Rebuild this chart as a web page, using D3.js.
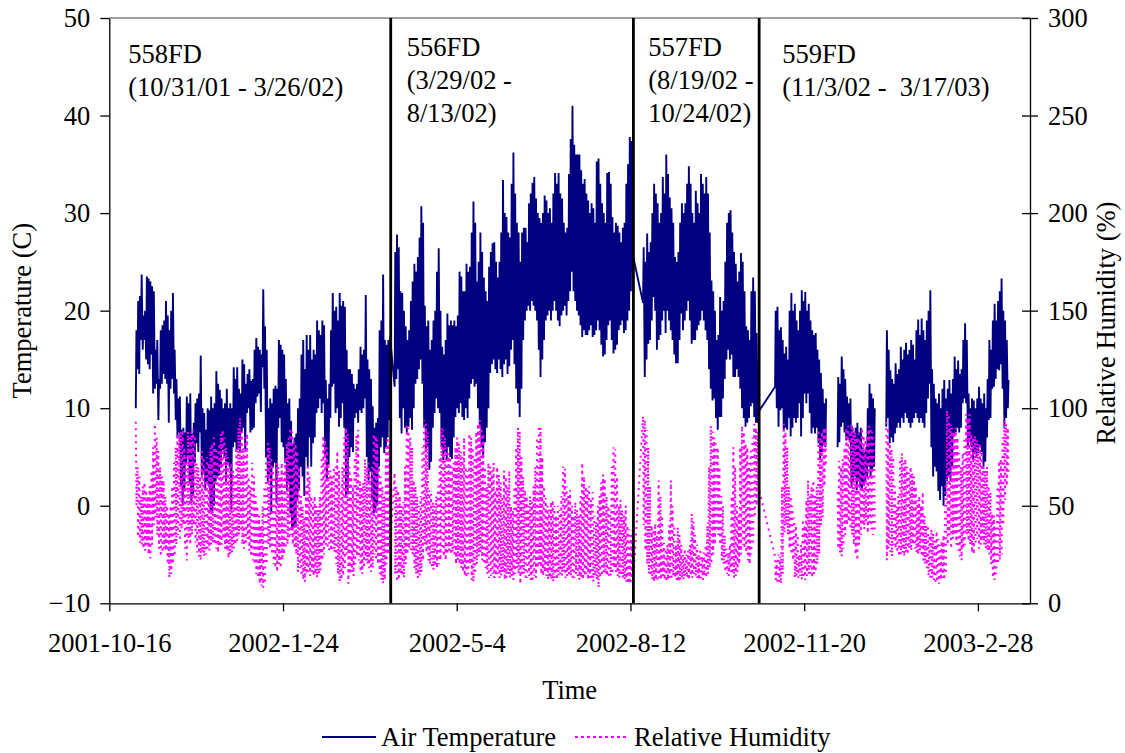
<!DOCTYPE html>
<head>
    <meta charset="utf-8">
    <title>Air temperature and relative humidity</title>
    <style>
        body { margin: 0; background: #fff; }
        svg { display: block; font-family: "Liberation Serif", "Times New Roman", serif; }
    </style>
</head>
<body>

<svg width="1125" height="753"></svg>

<script src="https://d3js.org/d3.v7.min.js"></script>

<script>

// x axis range and ticks
var xDomain = ['2001-10-16', '2003-03-30'];
var xTickLabels = ['2001-10-16', '2002-1-24', '2002-5-4', '2002-8-12', '2002-11-20', '2003-2-28'];
var tempTicks = [-10, 0, 10, 20, 30, 40, 50];
var rhTicks = [0, 50, 100, 150, 200, 250, 300];

var seriesNames = ['Air Temperature', 'Relative Humidity'];

// the four sensor deployments
var deployNames = ['558FD', '556FD', '557FD', '559FD'];
var deployStart = ['2001-10-31', '2002-03-29', '2002-08-19', '2002-11-03'];
var deployText = [
    ['558FD', '(10/31/01 - 3/26/02)'],
    ['556FD', '(3/29/02 -', '8/13/02)'],
    ['557FD', '(8/19/02 -', '10/24/02)'],
    ['559FD', '(11/3/02 -  3/17/03)']
];
// where the sensor was swapped (vertical lines)
var swapTimes = ['2002-03-27T00:00', '2002-08-13T17:00', '2002-10-25T02:00'];

// daily temperature max / min (C), one value per day from the start date, null = no data
var t558Max = [18, 21, 21.5, 23.7, 19.5, 20, 23.5, 23.3, 23, 22.5,
    22, 16, 17, 13, 18, 18.5, 19, 21, 19.5, 18,
    20, 21.8, 16, 13, 11, 11.2, 7.8, 8, 7.5, 11.2,
    10.5, 11.5, 7.4, 8.5, 10.5, 11, 11.5, 15.4, 10, 9.5,
    7.8, 10, 9.8, 11.2, 10, 10.5, 13.8, 12.5, 11.9, 11,
    10, 10.5, 12, 10, 10.5, 10, 14.2, 13, 14.2, 12,
    11.5, 15, 14.5, 12.5, 13.5, 14, 12.8, 13, 16, 17.2,
    16.3, 16, 15.5, 22.2, 18.4, 16, 10, 11, 10.5, 12,
    12.3, 12, 17, 16.5, 16, 15.5, 13, 10.5, 11, 8.7,
    6.3, 7, 7.4, 10, 11, 15.5, 17, 14, 17.5, 16,
    17.5, 15, 16, 15.5, 19, 18, 17.5, 19, 18.5, 12.9,
    11, 12.5, 18, 21.8, 20, 20.4, 19, 21.8, 20.5, 21,
    20.4, 16, 14, 14, 13.5, 12.5, 12, 12.5, 14, 16.3,
    15.5, 16, 21.6, 15, 14, 13, 10.2, 8, 8.5, 9,
    18, 19, 23.7, 17, 16.5, 17, 17.3];
var t558Min = [10, 14, 13.5, 17, 16, 17, 15, 14.5, 14, 15.5,
    11.5, 12, 12.5, 8.8, 12, 12.5, 13.5, 13, 12.5, 8.5,
    12, 13, 11.5, 8.8, 7, 7.5, 2, 0, 1.5, 4.4,
    5, 2.4, 0.3, 1, 4.4, 6.4, 5.5, 7.5, 3.1, 3.5,
    1.6, 2.5, 2, -0.4, -0.8, 0, 2.5, 3, 3.1, 4,
    5.7, 5, 2.4, 4.4, 4, -0.4, 6, 6.5, 5.5, 5.8,
    5.4, 7.5, 8, 5.8, 9.5, 10, 7.5, 7.8, 8, 10.5,
    11.2, 11.5, 9.6, 14.2, 12, 5, 2.3, 3, -0.8, 4,
    4.4, 0.3, 8, 9, 6.5, 6, 4.4, 1.6, 2.5, -0.8,
    -2.5, -2.2, -2.2, 0.5, 1.5, 4, 3, 1, 5, 4,
    7, 4, 6.4, 7, 9.5, 10, 11, 9.5, 10.5, 5,
    2.6, 4.2, 9, 12.2, 12.5, 9.5, 10, 8.1, 9, 10.5,
    8, 1, 1.2, 5, 6, 5.5, 9, 9.5, 8.5, 9.8,
    9.5, 10, 11, 5, 2.6, 3.5, 0.6, -0.8, -0.5, 0,
    4, 6, 7, 5.4, 6, 7, 8.8];

var t556Max = [26, 27.8, 26.5, 22, 21.8, 20, 18.4, 17, 18, 21,
    23, 24.8, 24, 25.5, 27.5, 30.7, 29, 20.5, 18.4, 19,
    16, 17, 19, 20, 24, 26.4, 20, 16.3, 15.5, 17,
    19.7, 18.5, 19, 18.5, 19, 18.4, 19.5, 24, 23.5, 22,
    22, 24.8, 24, 24.5, 28, 31.2, 29, 23, 25, 28,
    26, 23.4, 22, 21, 24.5, 26, 26.9, 27, 25, 23.4,
    25, 28, 33.4, 30, 29.6, 28, 27.5, 33, 36.2, 32,
    29, 28, 25, 28, 28.5, 28.5, 27, 31, 32, 33.1,
    33.7, 31.5, 30, 29.5, 29, 30, 31.8, 31.3, 30, 30.5,
    29, 32, 34.1, 33, 34.1, 32, 31.5, 29, 28, 28.5,
    34, 37.6, 41, 37, 36, 36, 36, 34.4, 33, 33.5,
    32, 31.3, 30, 31, 30.5, 29, 35.3, 35.6, 33, 31,
    30, 29, 34.1, 34.2, 33, 29.6, 28, 29, 28.7, 28,
    27, 28.5, 29, 33, 35, 37.8, 37.4, 25.5];
var t556Min = [12.2, 13, 14, 9, 7.4, 10, 8, 7.5, 8.1, 9,
    7.8, 10, 12.5, 13, 14, 15, 12.5, 8, 5.5, 6,
    3.7, 4.5, 8, 9.5, 11, 10, 9.5, 6, 4.7, 5.5,
    4.7, 6, 5, 4.8, 7, 9.1, 10, 9.5, 10.5, 9.1,
    8.8, 10, 9, 11, 12.5, 13, 12.2, 12.5, 10, 8,
    6, 5, 6.5, 8, 10, 13.6, 14.5, 15, 14, 13.6,
    15, 14, 13.2, 14.5, 15, 13.5, 14.3, 16, 17, 14.5,
    12, 10.5, 9.1, 12, 17, 19, 20, 20.5, 20, 21,
    20.5, 20, 19, 16, 13.2, 15, 17, 19, 19.5, 20,
    19, 20, 21, 20, 19, 18.4, 19.5, 20, 20.5, 19.5,
    21, 22, 24, 22, 21, 20, 19.5, 18.5, 17.3, 18,
    17.5, 17.5, 18, 18.5, 17.3, 17.5, 18, 19, 18, 16.5,
    15.3, 15.5, 17, 18.5, 19, 17, 15.6, 16, 16.5, 18,
    18.5, 19, 17.7, 18, 19, 20, 22, 24];

var t557Max = [26.5, 25, 27.9, 26, 27, 30, 33, 32, 31, 29,
    30, 33.7, 32, 36, 34, 31.6, 30.5, 29, 25.5, 25,
    26, 29, 31, 30, 31, 33, 34.8, 33, 30, 29,
    32.3, 31, 30, 34, 33, 32, 33.7, 32, 28, 23.1,
    22, 20, 17, 17.5, 21.4, 20, 21, 25, 29, 30,
    30.3, 28, 26, 24.8, 23, 24, 25.9, 25, 22, 18.4,
    18, 17, 22, 23.4, 22, 17.7, 9.6];
var t557Min = [20.8, 13.2, 15, 16.6, 17, 19, 21.4, 20, 16, 17,
    17.5, 19, 20, 17.7, 20, 19, 18, 17, 15.5, 14.6,
    14.6, 17, 19.7, 18, 19, 20, 21, 19, 16.6, 17,
    17, 18, 18.5, 19, 20, 19, 18, 17, 14, 12,
    10.8, 11, 9, 7.8, 9.1, 9.1, 11, 13, 15, 16,
    15, 15.5, 13.2, 13.2, 14, 13.2, 12, 10, 9, 8.1,
    8.5, 9, 10.2, 10.5, 9.1, 8.5, 8.5];

var t559Max = [20, 20.4, 18, 18.3, 17, 15.6, 16.3, 15, 20, 21.8,
    20, 20.7, 19, 18, 20, 22.1, 21, 21.9, 20, 20.7,
    19, 18, 17.5, 17.7, 16, 15, 13.6, 12, 10.5, 11,
    null, null, null, null, null, null, 13.2, 12.5, 15.3, 14,
    13, 11.2, 10.5, 11, 8.1, 7.5, 8, 8.5, 7.5, 8,
    6, 5.5, 6, 10, 12.5, 11.5, 11, 10, null, null,
    null, null, null, null, 18, 16, 13.9, 13, 12.5, 14.6,
    13.5, 14, 16.3, 15, 16, 16.7, 15.5, 16, 17, 16.5,
    15, 18, 19.1, 17.5, 19.2, 18, 17, 19, 20, 22.1,
    14, 12.5, 11, 10.5, 11.5, 10, 12, 12.9, 11, 12,
    12.9, 11.5, 13, 15.3, 14, 14.9, 13.5, 14, 17, 18.7,
    17, 11.5, 10, 11, 10.8, 10, 11, 12.2, 11, 10.5,
    11.5, 10, 13, 17, 16, 19, 20.7, 19, 21, 22,
    23.3, 20, 19, 17, 12.9];
var t559Min = [12.2, 10, 8.1, 9.8, 10, 7.8, 8, 7.8, 9, 7.1,
    8, 9, 8.5, 9, 10.5, 7.1, 9, 11.5, 10.5, 11.5,
    9.5, 7.4, 8, 7.4, 8, 6.4, 4.7, 5.5, 6.4, 6,
    null, null, null, null, null, null, 6, 6.5, 8.1, 8.5,
    7.5, 6.7, 7, 6.7, 1.9, 2.5, 3, 1.6, 2.5, 2,
    1.5, 2, 2.5, 3, 4, 3, 3.5, 4, null, null,
    null, null, null, null, 8.1, 9, 6.4, 7, 6.5, 7.4,
    8, 8.5, 8, 9, 8.5, 9.5, 9, 8.5, 8, 8.5,
    9, 9.5, 9, 8.5, 9, 8.5, 8, 9.5, 11, 12.5,
    6, 3, 4, 3.5, 1.5, 0.6, 2, 0, 1, 2.5,
    3, 2.5, 4, 7.1, 7.5, 8, 7.5, 8, 10.5, 11,
    10.5, 6, 6.5, 6, 4.7, 5.5, 5, 5.4, 6, 5.5,
    4, 4.5, 7, 8.8, 9, 12, 12.2, 13, 14, 13.9,
    14.5, 12, 8.1, 9, 10];

// daily relative humidity max / min (%)
var h558Max = [93, 70, 65, 55, 60, 62, 58, 55, 60, 68,
    80, 92, 85, 78, 70, 65, 63, 55, 50, 46,
    50, 60, 72, 80, 87, 86, 88, 89, 80, 75,
    88, 85, 88, 89, 86, 72, 70, 65, 78, 75,
    70, 75, 72, 80, 82, 85, 80, 78, 82, 87,
    89, 85, 80, 75, 70, 72, 68, 65, 80, 90,
    95, 88, 80, 85, 87, 65, 60, 72, 65, 55,
    50, 45, 40, 50, 60, 75, 82, 80, 75, 70,
    65, 72, 70, 65, 72, 68, 75, 82, 85, 90,
    88, 84, 82, 78, 70, 55, 50, 44, 60, 70,
    65, 55, 52, 55, 50, 48, 55, 75, 86, 84,
    80, 72, 68, 65, 70, 70, 78, 68, 60, 70,
    85, 90, 87, 70, 65, 60, 75, 86, 89, 63,
    60, 62, 74, 70, 72, 65, 70, 87, 86, 84,
    70, 65, 60, 55, 80, 85, 82];
var h558Min = [50, 34, 31, 30, 28, 27, 30, 25, 23, 30,
    40, 44, 35, 28, 24, 26, 28, 27, 20, 13,
    15, 20, 24, 30, 35, 32, 38, 40, 28, 22,
    33, 30, 35, 40, 31, 26, 24, 22, 26, 24,
    25, 28, 27, 30, 31, 30, 28, 26, 29, 30,
    33, 28, 27, 23, 25, 26, 28, 30, 32, 35,
    38, 30, 28, 30, 33, 27, 24, 22, 20, 15,
    13, 10, 9, 8, 10, 20, 30, 28, 25, 20,
    18, 16, 20, 18, 22, 25, 28, 30, 33, 35,
    30, 28, 25, 16, 18, 14, 12, 11, 15, 16,
    14, 16, 14, 15, 13, 15, 17, 22, 25, 30,
    28, 26, 27, 28, 26, 20, 15, 11, 12, 14,
    18, 25, 10, 15, 16, 14, 20, 24, 22, 16,
    15, 18, 22, 20, 18, 16, 18, 25, 22, 20,
    15, 12, 10, 12, 20, 25, 28];

var h556Max = [67, 60, 58, 55, 50, 52, 70, 92, 90, 85,
    80, 63, 60, 55, 50, 55, 80, 94, 92, 88,
    58, 56, 52, 50, 55, 60, 75, 90, 89, 85,
    80, 77, 75, 70, 72, 80, 85, 82, 78, 75,
    85, 70, 68, 87, 85, 80, 75, 88, 92, 94,
    90, 87, 70, 60, 72, 70, 68, 72, 58, 70,
    66, 62, 55, 68, 65, 60, 68, 50, 48, 60,
    80, 90, 88, 75, 65, 58, 55, 50, 55, 52,
    60, 70, 85, 91, 90, 75, 60, 54, 50, 48,
    52, 53, 50, 45, 50, 48, 55, 70, 69, 60,
    55, 58, 50, 45, 52, 48, 45, 55, 72, 65,
    60, 58, 60, 53, 57, 45, 42, 50, 55, 62,
    66, 64, 55, 50, 48, 70, 80, 79, 65, 50,
    53, 48, 45, 50, 40, 38, 35, 38];
var h556Min = [15, 11, 12, 15, 14, 13, 20, 25, 28, 26,
    25, 18, 15, 13, 14, 16, 22, 30, 26, 22,
    20, 18, 17, 19, 18, 20, 22, 26, 24, 22,
    25, 27, 25, 26, 24, 20, 22, 20, 18, 16,
    14, 13, 15, 20, 12, 11, 15, 20, 24, 26,
    22, 20, 18, 15, 13, 14, 15, 13, 14, 15,
    13, 14, 16, 12, 13, 15, 13, 14, 12, 15,
    18, 15, 10, 14, 15, 12, 13, 14, 12, 11,
    14, 13, 18, 20, 15, 14, 16, 14, 12, 13,
    12, 11, 13, 12, 14, 15, 14, 16, 13, 14,
    15, 14, 12, 13, 15, 14, 12, 13, 12, 14,
    15, 12, 13, 12, 11, 14, 12, 8, 13, 14,
    16, 15, 14, 13, 14, 15, 18, 16, 14, 13,
    14, 13, 12, 11, 10, 10, 11, 12];

var h557Max = [96, 94, 89, 80, 60, 40, 38, 41, 35, 63,
    55, 45, 31, 28, 30, 40, 63, 50, 40, 30,
    39, 35, 30, 25, 28, 25, 27, 30, 46, 42,
    35, 30, 25, 28, 24, 26, 30, 40, 70, 91,
    88, 85, 82, 80, 70, 55, 50, 35, 28, 26,
    30, 55, 80, 70, 50, 45, 80, 91, 88, 82,
    80, 72, 78, 85, 92, 90, 88];
var h557Min = [40, 27, 20, 15, 14, 12, 11, 12, 11, 13,
    12, 14, 12, 11, 12, 13, 12, 14, 13, 12,
    11, 12, 13, 12, 14, 13, 12, 14, 13, 15,
    14, 13, 12, 13, 12, 14, 13, 15, 18, 20,
    25, 30, 37, 35, 30, 22, 20, 16, 15, 14,
    16, 15, 13, 14, 16, 20, 25, 30, 28, 26,
    22, 20, 25, 30, 44, 50, 60];

var h559Max = [24, 22, 25, 24, 60, 92, 88, 80, 60, 55,
    50, 44, 40, 35, 25, 30, 43, 40, 53, 63,
    55, 60, 63, 55, 60, 89, 85, 88, 90, 90,
    null, null, null, null, null, null, 57, 73, 70, 74,
    80, 90, 91, 88, 92, 90, 88, 85, 87, 84,
    90, 86, 84, 88, 91, 90, 88, 85, null, null,
    null, null, null, null, 93, 90, 82, 79, 75, 60,
    50, 55, 74, 77, 72, 74, 70, 67, 70, 67,
    65, 60, 53, 55, 50, 57, 45, 40, 40, 35,
    38, 36, 32, 37, 33, 30, 32, 35, 60, 99,
    97, 92, 90, 88, 90, 85, 77, 70, 77, 85,
    97, 95, 97, 87, 85, 86, 84, 82, 81, 78,
    70, 68, 70, 60, 57, 46, 45, 40, 60, 73,
    74, 85, 94, 92, 90];
var h559Min = [12, 10, 11, 10, 15, 36, 40, 35, 28, 25,
    22, 13, 14, 13, 14, 12, 13, 12, 14, 15,
    14, 13, 15, 16, 20, 25, 40, 44, 60, 70,
    null, null, null, null, null, null, 28, 26, 24, 28,
    35, 40, 42, 38, 35, 30, 25, 22, 30, 35,
    40, 38, 42, 36, 40, 38, 35, 36, null, null,
    null, null, null, null, 22, 28, 25, 24, 30, 28,
    26, 24, 25, 26, 24, 26, 25, 28, 27, 30,
    28, 26, 25, 27, 24, 22, 20, 18, 14, 12,
    13, 12, 10, 11, 10, 12, 13, 12, 15, 30,
    35, 28, 33, 35, 30, 27, 24, 22, 28, 30,
    35, 32, 30, 26, 25, 30, 33, 28, 30, 32,
    30, 28, 27, 25, 20, 13, 12, 15, 20, 22,
    25, 40, 53, 60, 65];

var tempMax = [t558Max, t556Max, t557Max, t559Max],
    tempMin = [t558Min, t556Min, t557Min, t559Min],
    rhMax = [h558Max, h556Max, h557Max, h559Max],
    rhMin = [h558Min, h556Min, h557Min, h559Min];


var svg = d3.select('svg');

// plot area edges (window.top is taken, so no plain "top")
var plotL = 109.3, plotR = 1030, plotT = 18, plotB = 603.3;
var fontSize = 26.5;
var navy = '#000080', magenta = '#ff00ff';

var parseDay = d3.utcParse('%Y-%m-%d'),
    parseTime = d3.utcParse('%Y-%m-%dT%H:%M');

var x = d3.scaleUtc()
    .domain(xDomain.map(parseDay))
    .range([plotL, plotR]);

var yT = d3.scaleLinear().domain([-10, 50]).range([plotB, plotT]);
var yH = d3.scaleLinear().domain([0, 300]).range([plotB, plotT]);

// Turn the daily values into a time series: early morning and afternoon readings.
// Temperature is low in the morning, humidity is high in the morning.
function toSeries(firsts, seconds) {
    var pts = [];
    deployStart.forEach((s, k) => {
        var start = parseDay(s);
        firsts[k].forEach((v, i) => {
            var day = d3.utcDay.offset(start, i);
            if (v == null || seconds[k][i] == null) {
                pts.push({ t: d3.utcHour.offset(day, 6), v: null });
                return;
            }
            pts.push({ t: d3.utcHour.offset(day, 6), v: v });
            pts.push({ t: d3.utcHour.offset(day, 15), v: seconds[k][i] });
        });
    });
    return pts;
}

var tempSeries = toSeries(tempMin, tempMax);
var rhSeries = toSeries(rhMax, rhMin);

// top border of the plot area
svg.append('line')
    .attr('x1', plotL).attr('x2', plotR)
    .attr('y1', plotT).attr('y2', plotT)
    .attr('stroke', '#808080')
    .attr('stroke-width', 1.3);

// data lines
var tempLine = d3.line()
    .defined(d => d.v != null)
    .x(d => x(d.t))
    .y(d => yT(d.v));

var rhLine = d3.line()
    .defined(d => d.v != null)
    .x(d => x(d.t))
    .y(d => yH(d.v));

svg.append('path')
    .datum(tempSeries)
    .attr('fill', 'none')
    .attr('stroke', navy)
    .attr('stroke-width', 1.9)
    .attr('d', tempLine);

svg.append('path')
    .datum(rhSeries)
    .attr('fill', 'none')
    .attr('stroke', magenta)
    .attr('stroke-width', 2)
    .attr('stroke-dasharray', '2,4.5')
    .attr('d', rhLine);

// axes
function styleAxis(g) {
    g.attr('font-family', null).attr('font-size', null);
    g.select('.domain').attr('stroke', '#000').attr('stroke-width', 1.3);
    g.selectAll('.tick line').attr('stroke', '#000').attr('stroke-width', 1.3);
    g.selectAll('.tick text')
        .attr('fill', '#000')
        .style('font-size', fontSize + 'px');
}

svg.append('g')
    .attr('transform', `translate(${plotL},0)`)
    .call(d3.axisLeft(yT).tickValues(tempTicks).tickSize(9).tickSizeOuter(0).tickPadding(10))
    .call(styleAxis);

var rAxis = svg.append('g')
    .attr('transform', `translate(${plotR},0)`)
    .call(d3.axisRight(yH).tickValues(rhTicks).tickSize(8).tickSizeOuter(0).tickPadding(10))
    .call(styleAxis);
// ticks cross the right axis
rAxis.selectAll('.tick line').attr('x1', -8);

var xTickDates = xTickLabels.map(parseDay);
svg.append('g')
    .attr('transform', `translate(0,${plotB})`)
    .call(d3.axisBottom(x).tickValues(xTickDates)
        .tickFormat((d, i) => xTickLabels[i])
        .tickSize(8).tickSizeOuter(0).tickPadding(22))
    .call(styleAxis);

// sensor swap lines
svg.selectAll('.swap')
    .data(swapTimes.map(parseTime))
    .enter().append('line')
        .attr('class', 'swap')
        .attr('x1', d => x(d)).attr('x2', d => x(d))
        .attr('y1', plotT).attr('y2', plotB)
        .attr('stroke', '#000')
        .attr('stroke-width', 2.8);

// deployment labels
var labelX = [128.3, 406.7, 648.3, 782.3],
    labelY = [63, 56, 56, 63];

deployText.forEach((lines, k) => {
    var t = svg.append('text')
        .attr('x', labelX[k])
        .attr('y', labelY[k])
        .style('font-size', fontSize + 'px')
        .style('white-space', 'pre');
    t.selectAll('tspan')
        .data(lines)
        .enter().append('tspan')
            .attr('x', labelX[k])
            .attr('dy', (d, i) => i ? 32.8 : 0)
            .text(d => d);
});

// axis titles
svg.append('text')
    .attr('transform', `translate(31,${(plotT + plotB) / 2}) rotate(-90)`)
    .attr('text-anchor', 'middle')
    .style('font-size', fontSize + 'px')
    .text('Temperature (C)');

svg.append('text')
    .attr('transform', 'translate(1115,323) rotate(-90)')
    .attr('text-anchor', 'middle')
    .style('font-size', fontSize + 'px')
    .text('Relative Humidity (%)');

svg.append('text')
    .attr('x', (plotL + plotR) / 2)
    .attr('y', 699)
    .attr('text-anchor', 'middle')
    .style('font-size', fontSize + 'px')
    .text('Time');

// legend
var legend = [
    { name: seriesNames[0], x: 322, color: navy, dash: null },
    { name: seriesNames[1], x: 575, color: magenta, dash: '3,3' }
];

var item = svg.selectAll('.legend')
    .data(legend)
    .enter().append('g')
        .attr('class', 'legend')
        .attr('transform', d => `translate(${d.x},737)`);

item.append('line')
    .attr('x1', 0).attr('x2', 54)
    .attr('stroke', d => d.color)
    .attr('stroke-width', 2)
    .attr('stroke-dasharray', d => d.dash);

item.append('text')
    .attr('x', 59)
    .attr('y', 9)
    .style('font-size', fontSize + 'px')
    .text(d => d.name);

</script>

</body>
